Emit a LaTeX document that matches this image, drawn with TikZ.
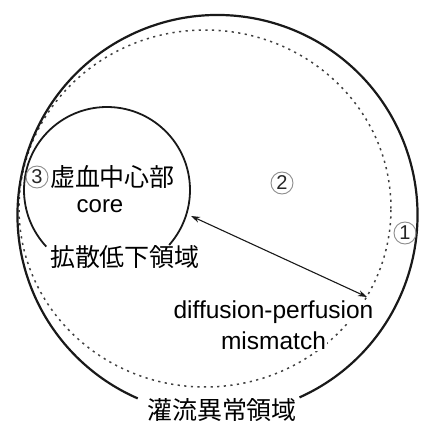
\documentclass[tikz,border=0pt]{standalone}
\usepackage{fontspec}
\setmainfont{Liberation Sans}
\newfontfamily\cjk{Noto Sans CJK JP}
\usetikzlibrary{arrows.meta}
\begin{document}
\begin{tikzpicture}[x=1pt,y=1pt,
  outerline/.style={line width=2.2pt,black!90},
  innerline/.style={line width=1.8pt,black!90},
  dotline/.style={line width=1.5pt,black!75,dash pattern=on 2.2pt off 4.4pt},
  arrowline/.style={line width=1.1pt,black!90,{Stealth[length=9pt,width=6pt]}-{Stealth[length=9pt,width=6pt]}},
  cjklabel/.style={font=\cjk\fontsize{25}{28}\selectfont,inner sep=0pt},
  numlabel/.style={circle,draw=black!45,line width=0.9pt,minimum size=22pt,inner sep=0pt,
    font=\fontsize{20}{22}\selectfont,text=black!85},
  latlabel/.style={font=\fontsize{24.5}{29}\selectfont,inner sep=1pt}
]
\useasboundingbox (0,0) rectangle (421,424);
% mismatch boundary (dotted)
\draw[dotline] (205,215.5) ellipse[x radius=186,y radius=178.5];
% labels over the dotted line
\node[latlabel,fill=white] (mm1) at (273.5,112) {diffusion-perfusion};
\node[latlabel,fill=white] (mm2) at (273.5,83) {mismatch};
% perfusion abnormality (outer)
\draw[outerline] (217.5,209) ++(-65.8:200) arc[start angle=-65.8,end angle=246.5,radius=200];
% core (inner)
\draw[innerline] (107,234) ++(-41.5:83) arc[start angle=-41.5,end angle=223,radius=83];
% arrow
\coordinate (a) at (191,208);
\coordinate (b) at (367,127);
\draw[arrowline] (a) -- (b);
% labels
\node[numlabel] (three) at (37,247) {3};
\node[cjklabel] (core) at (112.5,247) {虚血中心部};
\node[font=\fontsize{24}{26}\selectfont,inner sep=0pt] (coreen) at (100,218) {core};
\node[cjklabel] (diff) at (125,167) {拡散低下領域};
\node[numlabel] (two) at (282,241) {2};
\node[numlabel] (one) at (405,191) {1};
\node[cjklabel] (perf) at (222,14) {灌流異常領域};
\end{tikzpicture}
\end{document}
